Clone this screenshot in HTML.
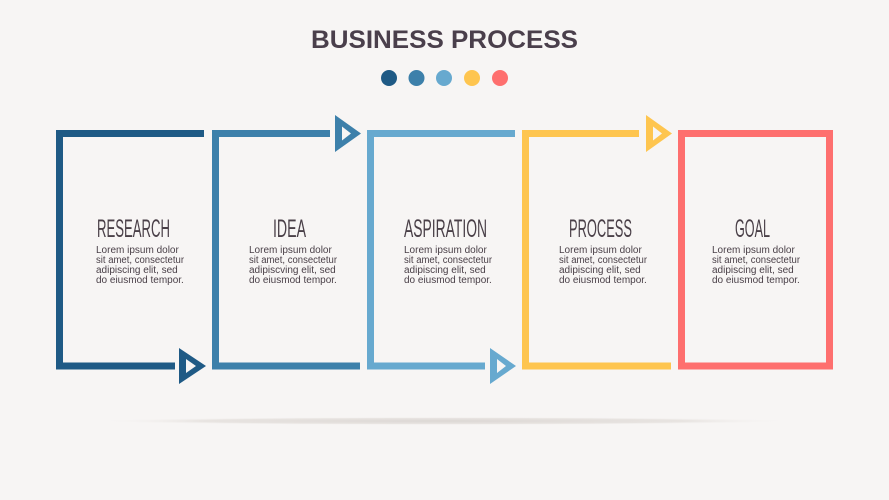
<!DOCTYPE html>
<html><head><meta charset="utf-8"><style>
html,body{margin:0;padding:0;background:#f7f5f4;}
svg{display:block}
.t{font-family:"Liberation Sans",sans-serif;fill:#4a4048}
.b{font-family:"Liberation Sans",sans-serif;fill:#4a4048;font-size:10px}
</style></head><body>
<svg width="889" height="500" viewBox="0 0 889 500" xmlns="http://www.w3.org/2000/svg">
<defs>
<radialGradient id="sh" cx="0.5" cy="0.5" r="0.5">
<stop offset="0" stop-color="#dcd7d4"/><stop offset="0.7" stop-color="#e8e4e1"/><stop offset="1" stop-color="#f7f5f4" stop-opacity="0"/>
</radialGradient>
</defs>
<rect width="889" height="500" fill="#f7f5f4"/>
<ellipse cx="444" cy="421" rx="350" ry="4" fill="url(#sh)"/>
<text x="444.5" y="48" text-anchor="middle" class="t" font-size="25" font-weight="bold" textLength="267" lengthAdjust="spacingAndGlyphs" style="fill:#4a3f4b">BUSINESS PROCESS</text>
<circle cx="389" cy="78" r="8" fill="#1f5a85"/>
<circle cx="416.5" cy="78" r="8" fill="#3d80aa"/>
<circle cx="444" cy="78" r="8" fill="#67a9cf"/>
<circle cx="472" cy="78" r="8" fill="#fec54f"/>
<circle cx="500" cy="78" r="8" fill="#fe6f6e"/>
<g fill="none" stroke-width="7" stroke-linejoin="miter">
<path d="M204 133.5 H59.5 V366 H175" stroke="#1f5a85"/>
<path d="M330 133.5 H215.5 V366 H360" stroke="#3d80aa"/>
<path d="M515 133.5 H370.5 V366 H485" stroke="#67a9cf"/>
<path d="M639 133.5 H525.5 V366 H671" stroke="#fec54f"/>
<rect x="681.5" y="133.5" width="148" height="232.5" stroke="#fe6f6e"/>
</g>
<g fill-rule="evenodd">
<path d="M179 348 L206 366 L179 384 Z M186 359 L196 366 L186 373 Z" fill="#1f5a85"/>
<path d="M335 115 L361 133.5 L335 152 Z M342 126.5 L351 133.5 L342 140.5 Z" fill="#3d80aa"/>
<path d="M490 348 L516 366 L490 384 Z M497 359 L506 366 L497 373 Z" fill="#67a9cf"/>
<path d="M646 115 L672 133.5 L646 152 Z M653 126.5 L662 133.5 L653 140.5 Z" fill="#fec54f"/>
</g>
<g class="t" font-size="25" text-anchor="middle">
<text x="133.5" y="237" textLength="73" lengthAdjust="spacingAndGlyphs">RESEARCH</text>
<text x="289.5" y="237" textLength="33" lengthAdjust="spacingAndGlyphs">IDEA</text>
<text x="445.5" y="237" textLength="83" lengthAdjust="spacingAndGlyphs">ASPIRATION</text>
<text x="600.5" y="237" textLength="63" lengthAdjust="spacingAndGlyphs">PROCESS</text>
<text x="752.5" y="237" textLength="35" lengthAdjust="spacingAndGlyphs">GOAL</text>
</g>
<g class="b">
<text x="96" y="253">Lorem ipsum dolor</text><text x="96" y="263" textLength="88" lengthAdjust="spacingAndGlyphs">sit amet, consectetur</text><text x="96" y="273">adipiscing elit, sed</text><text x="96" y="283">do eiusmod tempor.</text>
<text x="249" y="253">Lorem ipsum dolor</text><text x="249" y="263" textLength="88" lengthAdjust="spacingAndGlyphs">sit amet, consectetur</text><text x="249" y="273">adipiscving elit, sed</text><text x="249" y="283">do eiusmod tempor.</text>
<text x="404" y="253">Lorem ipsum dolor</text><text x="404" y="263" textLength="88" lengthAdjust="spacingAndGlyphs">sit amet, consectetur</text><text x="404" y="273">adipiscing elit, sed</text><text x="404" y="283">do eiusmod tempor.</text>
<text x="559" y="253">Lorem ipsum dolor</text><text x="559" y="263" textLength="88" lengthAdjust="spacingAndGlyphs">sit amet, consectetur</text><text x="559" y="273">adipiscing elit, sed</text><text x="559" y="283">do eiusmod tempor.</text>
<text x="712" y="253">Lorem ipsum dolor</text><text x="712" y="263" textLength="88" lengthAdjust="spacingAndGlyphs">sit amet, consectetur</text><text x="712" y="273">adipiscing elit, sed</text><text x="712" y="283">do eiusmod tempor.</text>
</g>
</svg>
</body></html>
